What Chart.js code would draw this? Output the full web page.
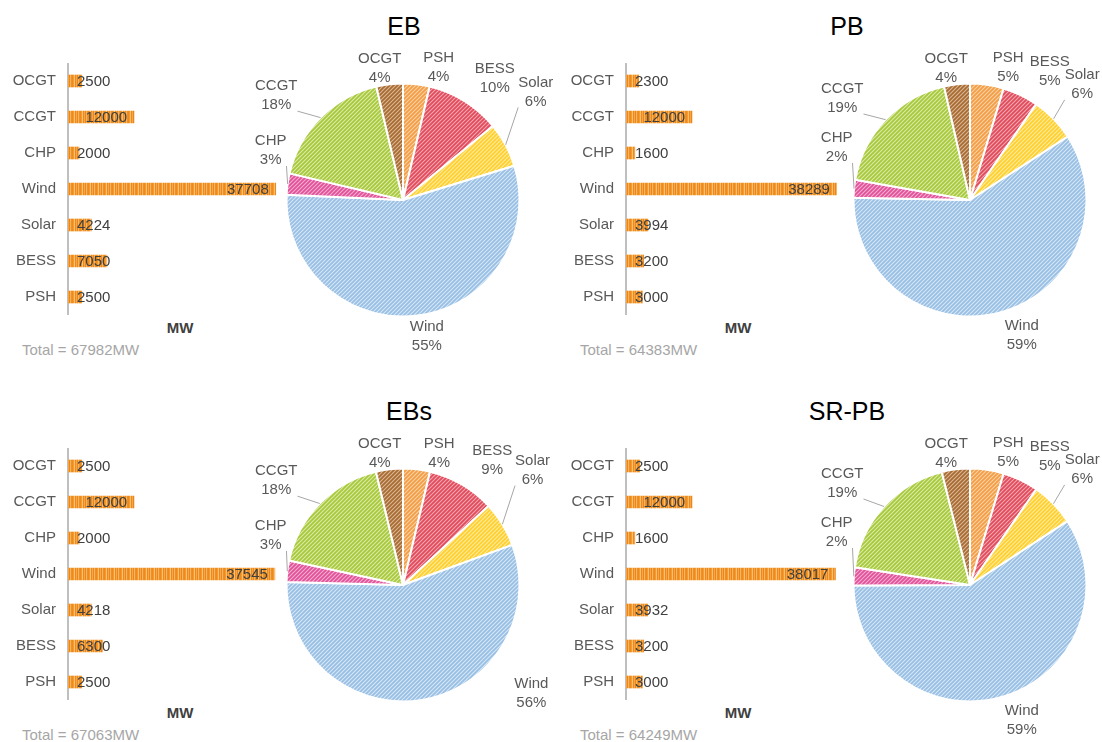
<!DOCTYPE html>
<html>
<head>
<meta charset="utf-8">
<title>Installed capacity by technology</title>
<script src="https://cdn.jsdelivr.net/npm/chart.js@4.4.1/dist/chart.umd.min.js"></script>
<style>
  html, body { margin: 0; padding: 0; background: #fff; }
  #page { position: relative; width: 1102px; height: 742px; overflow: hidden;
          font-family: "Liberation Sans", Arial, sans-serif; background: #fff; }
  #page canvas { position: absolute; }
  .title { position: absolute; font-size: 25px; color: #000; line-height: 1;
           white-space: nowrap; transform: translateX(-50%); }
  .unit  { position: absolute; font-size: 15px; font-weight: bold; color: #404040;
           line-height: 1; white-space: nowrap; transform: translateX(-50%); }
  .total { position: absolute; font-size: 15px; color: #a6a6a6; line-height: 1; white-space: nowrap; }
</style>
</head>
<body>
<div id="page"></div>
<script>
// Technologies, in series order (bar chart lists them bottom-up, pie runs clockwise from 12 o'clock)
const techs = ['PSH', 'BESS', 'Solar', 'Wind', 'CHP', 'CCGT', 'OCGT'];

// Installed capacity per scenario, MW
const capacityEB   = [2500, 7050, 4224, 37708, 2000, 12000, 2500];
const capacityPB   = [3000, 3200, 3994, 38289, 1600, 12000, 2300];
const capacityEBs  = [2500, 6300, 4218, 37545, 2000, 12000, 2500];
const capacitySRPB = [3000, 3200, 3932, 38017, 1600, 12000, 2500];

const scenarioNames = ['EB', 'PB', 'EBs', 'SR-PB'];
const unitLabel = 'MW';

// Pie label placement: [bearing clockwise from 12 o'clock (deg), gap beyond the rim (px), draw leader]
const labelsEB = {
  PSH: [15, 21], BESS: [37, 36], Solar: [50.7, 55, true], Wind: [170, 21],
  CHP: [290.7, 25, true], CCGT: [309.6, 48, true], OCGT: [350, 18]
};
const labelsPB = {
  PSH: [16, 22], BESS: [31.8, 35], Solar: [44, 45, true], Wind: [159, 28],
  CHP: [291.7, 27, true], CCGT: [308.6, 47, true], OCGT: [349.8, 18]
};
const labelsEBs = {
  PSH: [15.3, 20.5], BESS: [35.5, 37], Solar: [48.3, 57, true], Wind: [130, 51],
  CHP: [290.7, 25, true], CCGT: [309.6, 48, true], OCGT: [350, 17.5]
};
const labelsSRPB = {
  PSH: [16, 22], BESS: [31.8, 35], Solar: [44, 45, true], Wind: [159, 28],
  CHP: [291.7, 27, true], CCGT: [308.6, 47, true], OCGT: [349.8, 18]
};

// Slice fills: base colour and the lighter hatch line drawn over it
const sliceColours = {
  PSH:   ['#f39d45', '#fbd2a6'],
  BESS:  ['#e04a5b', '#f4a8b0'],
  Solar: ['#ffcf2e', '#ffeca0'],
  Wind:  ['#98bfe3', '#d6e7f6'],
  CHP:   ['#e2509a', '#f5afd0'],
  CCGT:  ['#a6c83a', '#dcebaa'],
  OCGT:  ['#a66b33', '#dcb893']
};

const FONT = '"Liberation Sans", Arial, sans-serif';
const page = document.getElementById('page');

function hatch(base, line) {
  const s = 4;
  const c = document.createElement('canvas');
  c.width = s; c.height = s;
  const g = c.getContext('2d');
  g.fillStyle = base; g.fillRect(0, 0, s, s);
  g.strokeStyle = line; g.lineWidth = 1.1;
  g.beginPath();
  g.moveTo(-1, s + 1); g.lineTo(s + 1, -1);
  g.moveTo(-1, 1); g.lineTo(1, -1);
  g.moveTo(s - 1, s + 1); g.lineTo(s + 1, s - 1);
  g.stroke();
  return g.createPattern(c, 'repeat');
}

function barStripes() {
  const cols = ['#ef8a17', '#f29a33', '#f8c07a', '#ef8a17', '#f4a64c', '#ee8615', '#f6b466', '#f09020'];
  const c = document.createElement('canvas');
  c.width = cols.length; c.height = 2;
  const g = c.getContext('2d');
  cols.forEach((col, i) => { g.fillStyle = col; g.fillRect(i, 0, 1, 2); });
  return g.createPattern(c, 'repeat');
}

function addCanvas(left, top, w, h) {
  const cv = document.createElement('canvas');
  cv.width = w; cv.height = h;
  cv.style.left = left + 'px'; cv.style.top = top + 'px';
  cv.style.width = w + 'px'; cv.style.height = h + 'px';
  page.appendChild(cv);
  return cv;
}

function addText(cls, text, left, top) {
  const d = document.createElement('div');
  d.className = cls; d.textContent = text;
  d.style.left = left + 'px'; d.style.top = top + 'px';
  page.appendChild(d);
}

// Value labels sit just inside the bar end, pushed right when the bar is too short
const barValueLabels = {
  id: 'barValueLabels',
  afterDatasetsDraw(chart) {
    const ctx = chart.ctx;
    const area = chart.chartArea;
    const meta = chart.getDatasetMeta(0);
    const values = chart.data.datasets[0].data;
    ctx.save();
    ctx.font = '15px ' + FONT;
    ctx.fillStyle = '#404040';
    ctx.textAlign = 'right';
    ctx.textBaseline = 'middle';
    meta.data.forEach((bar, i) => {
      const txt = String(values[i]);
      const w = ctx.measureText(txt).width;
      const right = Math.max(bar.x - 7, area.left + 9 + w);
      ctx.fillText(txt, right, bar.y + 1);
    });
    ctx.restore();
  }
};

// Two-line category / percentage labels around the pie, with optional leader lines
const pieLabels = {
  id: 'pieLabels',
  afterDatasetsDraw(chart, args, opts) {
    const ctx = chart.ctx;
    const meta = chart.getDatasetMeta(0);
    const values = chart.data.datasets[0].data;
    const total = values.reduce((a, b) => a + b, 0);
    ctx.save();
    ctx.font = '15px ' + FONT;
    ctx.textAlign = 'center';
    ctx.textBaseline = 'middle';
    meta.data.forEach((arc, i) => {
      const name = chart.data.labels[i];
      const place = opts.place[name];
      const pct = Math.round(values[i] / total * 100) + '%';
      const bearing = place[0] * Math.PI / 180;
      const dist = arc.outerRadius + place[1];
      const lx = arc.x + dist * Math.sin(bearing);
      const ly = arc.y - dist * Math.cos(bearing);
      if (place[2]) {
        const mid = (arc.startAngle + arc.endAngle) / 2;
        const ax = arc.x + arc.outerRadius * Math.cos(mid);
        const ay = arc.y + arc.outerRadius * Math.sin(mid);
        const w = Math.max(ctx.measureText(name).width, ctx.measureText(pct).width);
        const bx = Math.min(Math.max(ax, lx - w / 2), lx + w / 2);
        const by = Math.min(Math.max(ay, ly - 17), ly + 16);
        ctx.strokeStyle = '#a6a6a6';
        ctx.lineWidth = 1;
        ctx.beginPath();
        ctx.moveTo(bx, by);
        ctx.lineTo(ax, ay);
        ctx.stroke();
      }
      ctx.fillStyle = '#595959';
      ctx.fillText(name, lx, ly - 9);
      ctx.fillText(pct, lx, ly + 10);
    });
    ctx.restore();
  }
};

const scenarios = [
  { name: scenarioNames[0], values: capacityEB,   place: labelsEB },
  { name: scenarioNames[1], values: capacityPB,   place: labelsPB },
  { name: scenarioNames[2], values: capacityEBs,  place: labelsEBs },
  { name: scenarioNames[3], values: capacitySRPB, place: labelsSRPB }
];

// Panel frames: offset of each panel, title centre and pie centre
const frames = [
  { dx: 0,   dy: 0,   titleX: 404, pieX: 403 },
  { dx: 558, dy: 0,   titleX: 847, pieX: 970 },
  { dx: 0,   dy: 385, titleX: 409, pieX: 403 },
  { dx: 558, dy: 385, titleX: 847, pieX: 970 }
];

const PIE_RADIUS = 116.5;
const BAR_MAX = 38300;

scenarios.forEach((sc, k) => {
  const f = frames[k];
  const total = sc.values.reduce((a, b) => a + b, 0);

  addText('title', sc.name, f.titleX, 13.8 + f.dy);
  addText('unit', unitLabel, f.dx + 180, 319.7 + f.dy);
  addText('total', 'Total = ' + total + unitLabel, f.dx + 22, 341.7 + f.dy);

  // Horizontal bar chart of capacities
  const barCanvas = addCanvas(f.dx, 63 + f.dy, 300, 252);
  new Chart(barCanvas, {
    type: 'bar',
    data: {
      labels: techs,
      datasets: [{
        data: sc.values,
        backgroundColor: barStripes(),
        borderWidth: 0,
        barThickness: 12
      }]
    },
    options: {
      indexAxis: 'y',
      responsive: false,
      animation: false,
      events: [],
      layout: { padding: { left: 0, right: 21, top: 0, bottom: 0 } },
      plugins: { legend: { display: false }, tooltip: { enabled: false } },
      scales: {
        x: { display: false, min: 0, max: BAR_MAX },
        y: {
          reverse: true,
          grid: { display: false, drawTicks: false },
          border: { display: true, color: '#bfbfbf', width: 2 },
          ticks: { color: '#595959', font: { size: 15, family: FONT }, padding: 12 },
          afterFit(scale) {
            scale.width = 68;
            scale.paddingTop = 0;
            scale.paddingBottom = 0;
          }
        }
      }
    },
    plugins: [barValueLabels]
  });

  // Pie chart of shares
  const L = f.pieX - 170, W = (f.pieX + 170 > 1102) ? 1102 - L : 340;
  const cy = 200 + f.dy;
  const T = cy - 160, H = 320;
  const half = Math.min(f.pieX - L, L + W - f.pieX);
  const pieCanvas = addCanvas(L, T, W, H);
  new Chart(pieCanvas, {
    type: 'pie',
    data: {
      labels: techs,
      datasets: [{
        data: sc.values,
        backgroundColor: techs.map(t => hatch(sliceColours[t][0], sliceColours[t][1])),
        borderColor: '#ffffff',
        borderWidth: 2,
        radius: PIE_RADIUS
      }]
    },
    options: {
      responsive: false,
      animation: false,
      events: [],
      layout: { padding: { left: f.pieX - half - L, right: L + W - (f.pieX + half), top: 0, bottom: 0 } },
      plugins: {
        legend: { display: false },
        tooltip: { enabled: false },
        pieLabels: { place: sc.place }
      }
    },
    plugins: [pieLabels]
  });
});
</script>
</body>
</html>
